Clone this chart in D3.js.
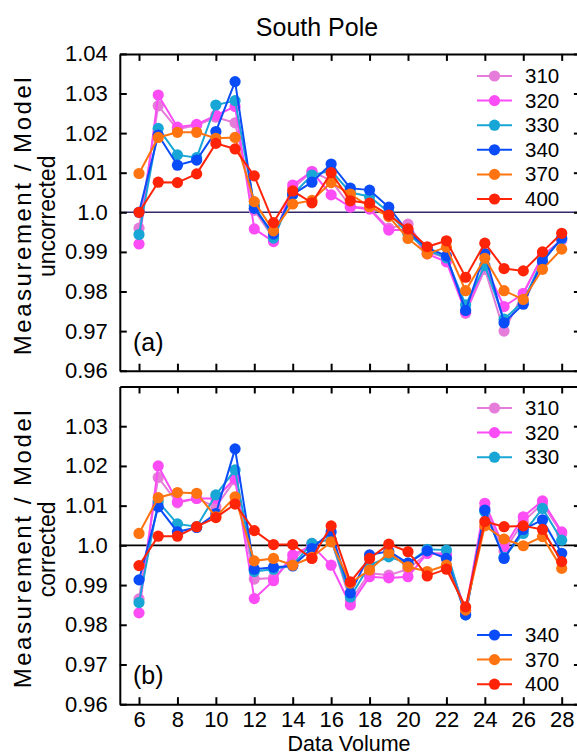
<!DOCTYPE html>
<html>
<head>
<meta charset="utf-8">
<script src="https://cdn.jsdelivr.net/npm/d3@7"></script>
<style>
  html, body { margin: 0; padding: 0; background: #fff; }
  svg { display: block; font-family: Arial, "Liberation Sans", sans-serif; }
</style>
</head>
<body>
<svg id="chart" width="577" height="756"></svg>
<script>
// Data volumes on the x axis
const volumes = [6,7,8,9,10,11,12,13,14,15,16,17,18,19,20,21,22,23,24,25,26,27,28];

// Series names (wavelength channels)
const seriesNames = ["310", "320", "330", "340", "370", "400"];
const seriesColors = ["#e57cd9", "#fb4cf6", "#18a6d6", "#0a4cf8", "#ff7410", "#ff2308"];

// Measurement / Model, uncorrected
const unc310 = [0.996,1.0269,1.021,1.022,1.024,1.0226,1.0005,0.9935,1.006,1.0103,1.008,1.0015,1.001,0.996,0.997,0.990,0.9885,0.9745,0.9856,0.970,0.9795,0.989,0.993];
const unc320 = [0.992,1.0296,1.0215,1.0222,1.0245,1.0267,0.9958,0.9926,1.0069,1.0103,1.0044,1.0013,1.0008,0.9955,0.9955,0.9895,0.9875,0.9748,0.9865,0.9762,0.9795,0.989,0.993];
const unc330 = [0.9944,1.0212,1.0145,1.0138,1.0271,1.0282,1.0018,0.9935,1.0045,1.0094,1.0105,1.005,1.004,1.0,0.9945,0.9905,0.9885,0.9766,0.9865,0.973,0.9775,0.988,0.9933];
const unc340 = [1.000,1.0195,1.0119,1.0132,1.0204,1.033,1.001,0.9945,1.0045,1.0076,1.0122,1.0061,1.0056,1.0013,0.995,0.991,0.989,0.9752,0.9896,0.9721,0.9768,0.9875,0.9935];
const unc370 = [1.0098,1.0189,1.0202,1.0202,1.0187,1.0189,1.0027,0.9953,1.0021,1.003,1.0075,1.0046,1.0014,0.9989,0.9934,0.9895,0.9912,0.9802,0.9884,0.9802,0.978,0.9856,0.9907];
const unc400 = [1.000,1.0076,1.0075,1.0097,1.0174,1.016,1.0092,0.9974,1.0054,1.0024,1.010,1.0029,1.0023,0.9993,0.9958,0.9913,0.9928,0.9836,0.9922,0.9858,0.9852,0.990,0.9947];

// Measurement / Model, corrected
const cor310 = [0.9865,1.0171,1.0107,1.0118,1.0097,1.0165,0.9915,0.9918,0.9965,1.0005,1.0015,0.986,0.993,0.9925,0.994,0.998,0.998,0.983,1.0095,0.9985,1.006,1.0105,1.003];
const cor320 = [0.983,1.020,1.011,1.0118,1.0118,1.0169,0.9866,0.9911,0.9976,1.0,0.995,0.985,0.9921,0.9918,0.9921,0.998,0.9975,0.9835,1.0106,0.9995,1.0072,1.0112,1.0034];
const cor330 = [0.9856,1.011,1.0054,1.0047,1.0127,1.019,0.9934,0.994,0.995,1.0005,1.0015,0.987,0.995,0.9971,0.9955,0.999,0.9988,0.9825,1.0085,0.997,1.003,1.0093,1.0013];
const cor340 = [0.9913,1.0097,1.0034,1.0045,1.008,1.0243,0.994,0.9945,0.9948,0.9992,1.0034,0.988,0.9976,0.9985,0.9955,0.9986,0.9967,0.9825,1.0089,0.9967,1.004,1.0064,0.998];
const cor370 = [1.003,1.012,1.0133,1.0131,1.0072,1.0122,0.9961,0.9967,0.995,0.997,1.0009,0.9905,0.9938,0.9981,0.9946,0.9934,0.995,0.9837,1.0049,1.0016,0.9999,1.0022,0.9942];
const cor400 = [0.9949,1.0023,1.0023,1.0047,1.007,1.0104,1.0037,1.0002,1.0002,0.9967,1.0049,0.9908,0.9967,1.0003,0.9984,0.9923,0.994,0.9845,1.006,1.0047,1.0049,1.004,0.9959];

// Axis ticks
const xTicks = [6,8,10,12,14,16,18,20,22,24,26,28];
const yTicksTop = [0.96,0.97,0.98,0.99,1.00,1.01,1.02,1.03,1.04];
const yTicksBottom = [0.96,0.97,0.98,0.99,1.00,1.01,1.02,1.03];

const svg = d3.select("#chart");

const x = d3.scaleLinear().domain([5, 29]).range([119.8, 580.9]);

const panels = [
  { series: [unc310, unc320, unc330, unc340, unc370, unc400],
    y: d3.scaleLinear().domain([0.96, 1.04]).range([370.7, 53.9]),
    yTicks: yTicksTop, label: "(a)", subtitle: "uncorrected", refColor: "#33286a",
    legendGroups: [{ idx: [0,1,2,3,4,5], y0: 76 }] },
  { series: [cor310, cor320, cor330, cor340, cor370, cor400],
    y: d3.scaleLinear().domain([0.96, 1.04]).range([704.2, 386.5]),
    yTicks: yTicksBottom, label: "(b)", subtitle: "corrected", refColor: "#000",
    legendGroups: [{ idx: [0,1,2], y0: 408 }, { idx: [3,4,5], y0: 635 }] }
];

const fmt = v => (Math.abs(v - 1) < 1e-9 ? "1.0" : d3.format(".2f")(v));

panels.forEach(p => {
  const g = svg.append("g");
  const [x0, x1] = x.range();
  const [yb, yt] = p.y.range();

  // reference line at unity
  g.append("line")
    .attr("x1", x0).attr("x2", x1)
    .attr("y1", p.y(1)).attr("y2", p.y(1))
    .attr("stroke", p.refColor).attr("stroke-width", 1.6);

  // series lines and markers
  p.series.forEach((vals, i) => {
    const pts = volumes.map((v, k) => [v, vals[k]]);
    const sg = g.append("g");
    sg.append("path")
      .attr("d", d3.line().x(d => x(d[0])).y(d => p.y(d[1]))(pts))
      .attr("fill", "none").attr("stroke", seriesColors[i]).attr("stroke-width", 2);
    sg.selectAll("circle").data(pts).join("circle")
      .attr("cx", d => x(d[0])).attr("cy", d => p.y(d[1]))
      .attr("r", 5.6).attr("fill", seriesColors[i]);
  });

  // axes with inward ticks
  const axL = d3.axisLeft(p.y).tickValues(p.yTicks).tickSizeInner(-7).tickSizeOuter(0).tickPadding(12).tickFormat(fmt);
  const axR = d3.axisRight(p.y).tickValues(yTicksTop).tickSizeInner(-7).tickSizeOuter(0).tickFormat("");
  const axT = d3.axisTop(x).tickValues(xTicks).tickSizeInner(-7).tickSizeOuter(0).tickFormat("");
  const axB = d3.axisBottom(x).tickValues(xTicks).tickSizeInner(-7).tickSizeOuter(0).tickPadding(7);
  if (p.label === "(a)") axB.tickFormat("");

  const style = sel => {
    sel.selectAll("path.domain").attr("stroke", "#000").attr("stroke-width", 2);
    sel.selectAll(".tick line").attr("stroke", "#000").attr("stroke-width", 2);
    sel.selectAll(".tick text").attr("fill", "#000").attr("font-size", 22).attr("font-family", "Arial, 'Liberation Sans', sans-serif");
  };
  g.append("g").attr("transform", `translate(${x0},0)`).call(axL).call(style);
  g.append("g").attr("transform", `translate(${x1},0)`).call(axR).call(style);
  g.append("g").attr("transform", `translate(0,${yt})`).call(axT).call(style);
  g.append("g").attr("transform", `translate(0,${yb})`).call(axB).call(style);

  // panel tag
  g.append("text").attr("x", 133).attr("y", yb - 20)
    .attr("font-size", 25).attr("fill", "#000").text(p.label);

  // y axis title (two lines)
  const cy = (yb + yt) / 2 + 4;
  g.append("text").attr("transform", `translate(31,${cy}) rotate(-90)`)
    .attr("text-anchor", "middle").attr("font-size", 24).attr("fill", "#000")
    .attr("textLength", 278).attr("lengthAdjust", "spacing")
    .text("Measurement / Model");
  g.append("text").attr("transform", `translate(55,${cy}) rotate(-90)`)
    .attr("text-anchor", "middle").attr("font-size", 23).attr("fill", "#000")
    .text(p.subtitle);

  // legend
  p.legendGroups.forEach(lg => {
    lg.idx.forEach((si, r) => {
      const ly = lg.y0 + r * 24.6;
      const le = g.append("g");
      le.append("line").attr("x1", 477).attr("x2", 512).attr("y1", ly).attr("y2", ly)
        .attr("stroke", seriesColors[si]).attr("stroke-width", 2);
      le.append("circle").attr("cx", 494.5).attr("cy", ly).attr("r", 5.6).attr("fill", seriesColors[si]);
      le.append("text").attr("x", 525).attr("y", ly + 7).attr("font-size", 20.5)
        .attr("fill", "#000").text(seriesNames[si]);
    });
  });
});

// title and x axis title
svg.append("text").attr("x", 317).attr("y", 36).attr("text-anchor", "middle")
  .attr("font-size", 25).attr("fill", "#000").text("South Pole");
svg.append("text").attr("x", 349).attr("y", 751).attr("text-anchor", "middle")
  .attr("font-size", 21.5).attr("fill", "#000").text("Data Volume");
</script>
</body>
</html>
